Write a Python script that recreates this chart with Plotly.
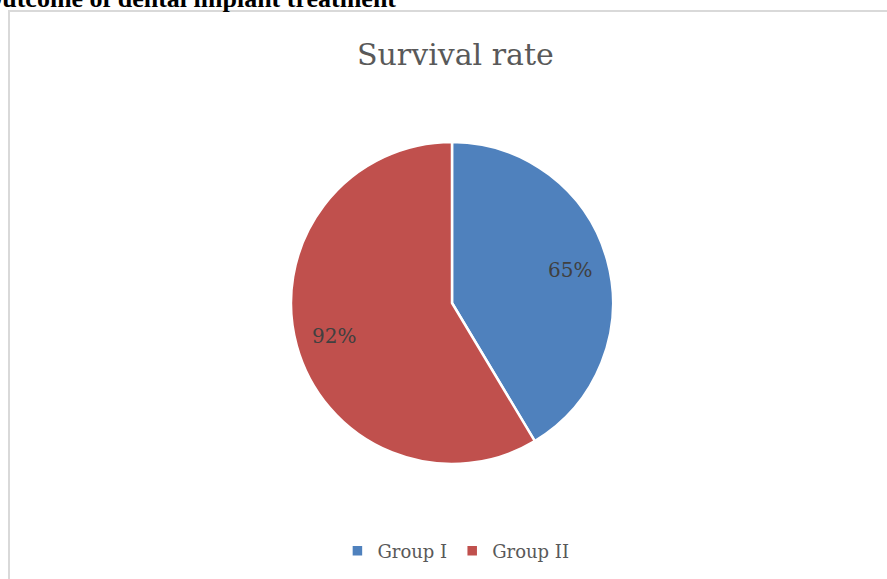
import math
import plotly.graph_objects as go

labels = ["Group I", "Group II"]
values = [65, 92]
text_labels = ["65%", "92%"]
colors = ["#4F81BD", "#C0504D"]
title_text = "Survival rate"
header_text = "Outcome of dental implant treatment"

W, H = 887, 579
cx, cy, R = 452, 303, 161

fig = go.Figure()
fig.add_trace(go.Pie(
    labels=labels, values=values,
    textinfo="none",
    sort=False, direction="clockwise", rotation=0,
    marker=dict(colors=colors, line=dict(color="white", width=2.5)),
    domain=dict(x=[(cx - R) / W, (cx + R) / W], y=[1 - (cy + R) / H, 1 - (cy - R) / H]),
    hoverinfo="skip",
))

# data labels placed at mid-angle of each slice (best-fit style)
annotations = []
total = sum(values)
cum = 0
for v, t in zip(values, text_labels):
    mid = (cum + v / 2) / total * 2 * math.pi
    cum += v
    r = 0.76 * R
    px = cx + r * math.sin(mid)
    py = cy - r * math.cos(mid)
    annotations.append(dict(text=t, xref="paper", yref="paper", x=px / W, y=1 - py / H,
                            xanchor="center", yanchor="middle", showarrow=False,
                            font=dict(family="DejaVu Serif", size=20, color="#404040")))

annotations += [
    dict(text=title_text, xref="paper", yref="paper", x=456 / W, y=1 - 55 / H,
         xanchor="center", yanchor="middle", showarrow=False,
         font=dict(family="DejaVu Serif", size=30, color="#595959")),
    dict(text="<b>" + header_text + "</b>", xref="paper", yref="paper", x=-20 / W, y=1 + 2 / H,
         xanchor="left", yanchor="middle", showarrow=False,
         font=dict(family="Liberation Serif", size=26, color="black")),
]

fig.update_layout(
    width=W, height=H,
    margin=dict(l=0, r=0, t=0, b=0),
    paper_bgcolor="white", plot_bgcolor="white",
    showlegend=True,
    legend=dict(orientation="h", x=0.514, xanchor="center", y=1 - 551 / H, yanchor="middle",
                font=dict(family="DejaVu Serif", size=18, color="#595959"),
                itemwidth=30, traceorder="normal"),
    shapes=[dict(type="rect", xref="paper", yref="paper",
                 x0=9 / W, x1=1.2, y0=-0.2, y1=1 - 11 / H,
                 line=dict(color="#D9D9D9", width=2), fillcolor="rgba(0,0,0,0)")],
    annotations=annotations,
)

fig.write_html("out.html")
